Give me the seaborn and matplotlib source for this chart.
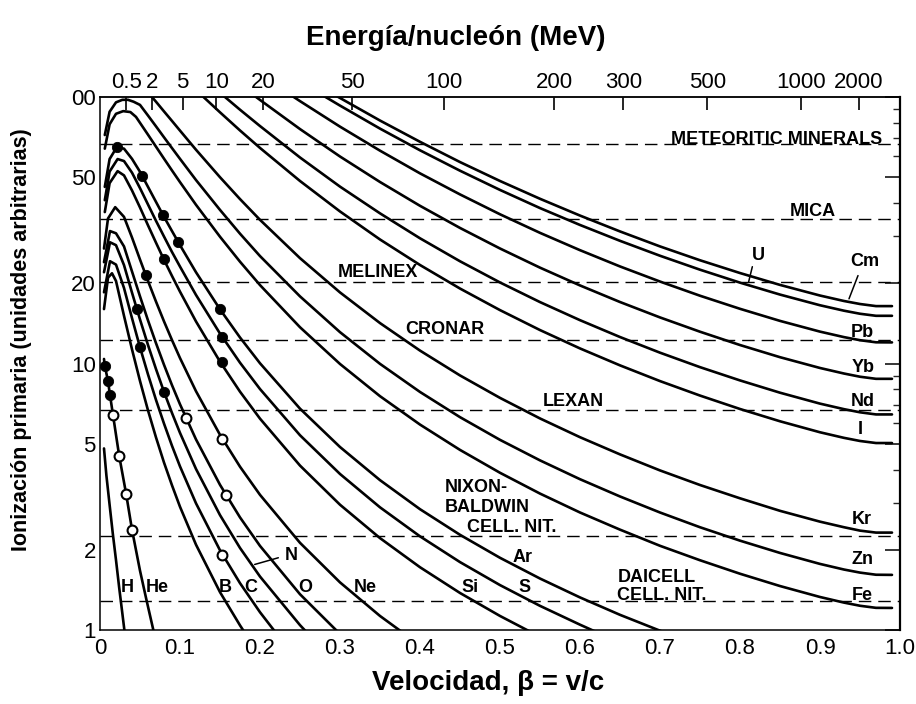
import numpy as np
import pandas as pd
import matplotlib
matplotlib.use("Agg")
import matplotlib.pyplot as plt
import seaborn as sns

sns.set_theme(style="white")
plt.rcParams['font.family'] = ['Liberation Sans', 'DejaVu Sans']

# ---------------- data ----------------
b_H = [0.005, 0.008, 0.012, 0.016, 0.020, 0.024, 0.028, 0.031]
j_H = [4.8, 3.8, 2.95, 2.3, 1.83, 1.44, 1.15, 0.97]

b_He = [0.005, 0.006, 0.010, 0.0125, 0.0163, 0.020, 0.024, 0.0326, 0.040, 0.050, 0.058, 0.067]
j_He = [10.4, 9.8, 8.6, 7.6, 6.4, 5.4, 4.5, 3.25, 2.38, 1.67, 1.3, 0.99]

b_B = [0.005, 0.010, 0.015, 0.02, 0.03, 0.04, 0.05, 0.06, 0.07, 0.08, 0.09, 0.10, 0.12, 0.15, 0.175, 0.18]
j_B = [16.0, 21.0, 21.8, 20.4, 15.1, 11.3, 8.60, 6.67, 5.28, 4.25, 3.49, 2.90, 2.09, 1.387, 1.041, 0.987]

b_C = [0.005, 0.0125, 0.02, 0.03, 0.04, 0.05, 0.06, 0.07, 0.08, 0.09, 0.10, 0.12, 0.15, 0.175, 0.20, 0.22]
j_C = [18.5, 24.2, 23.5, 19.2, 14.8, 11.5, 9.10, 7.30, 5.95, 4.91, 4.11, 2.988, 1.991, 1.499, 1.166, 0.975]

b_N = [0.005, 0.0125, 0.02, 0.03, 0.04, 0.05, 0.06, 0.07, 0.08, 0.09, 0.10, 0.12, 0.15, 0.175, 0.20, 0.25, 0.26]
j_N = [22.0, 28.5, 27.8, 23.4, 18.44, 14.63, 11.73, 9.53, 7.83, 6.52, 5.49, 4.02, 2.699, 2.032, 1.587, 1.043, 0.969]

b_O = [0.005, 0.0125, 0.02, 0.03, 0.04, 0.05, 0.06, 0.07, 0.08, 0.09, 0.10, 0.12, 0.15, 0.175, 0.20, 0.25, 0.30]
j_O = [24.0, 31.4, 30.8, 27.5, 22.15, 17.86, 14.51, 11.92, 9.89, 8.29, 7.03, 5.19, 3.506, 2.646, 2.068, 1.362, 0.966]

b_Ne = [0.005, 0.010, 0.019, 0.03, 0.04, 0.05, 0.06, 0.07, 0.08, 0.09, 0.10, 0.12, 0.15, 0.175, 0.20, 0.25, 0.30, 0.35, 0.40]
j_Ne = [27.0, 35.0, 38.6, 35.5, 29.7, 24.55, 20.4, 17.07, 14.39, 12.24, 10.48, 7.87, 5.40, 4.10, 3.215, 2.124, 1.509, 1.129, 0.877]

b_Si = [0.006, 0.012, 0.022, 0.03, 0.04, 0.05, 0.06, 0.07, 0.08, 0.09, 0.10, 0.12, 0.15, 0.175, 0.20, 0.25, 0.30, 0.35, 0.40, 0.45, 0.50, 0.55]
j_Si = [37.0, 47.5, 52.7, 50.8, 44.6, 38.5, 33.0, 28.4, 24.5, 21.3, 18.6, 14.38, 10.16, 7.84, 6.21, 4.14, 2.952, 2.212, 1.720, 1.377, 1.129, 0.943]

b_S = [0.006, 0.012, 0.022, 0.03, 0.04, 0.05, 0.06, 0.07, 0.08, 0.09, 0.10, 0.12, 0.15, 0.175, 0.20, 0.25, 0.30, 0.35, 0.40, 0.45, 0.50, 0.55, 0.60, 0.62]
j_S = [41.0, 52.5, 58.5, 57.5, 52.0, 45.5, 39.5, 34.3, 29.95, 26.2, 23.1, 18.08, 12.95, 10.07, 8.02, 5.38, 3.85, 2.886, 2.246, 1.798, 1.474, 1.232, 1.047, 0.984]

b_Ar = [0.006, 0.012, 0.021, 0.03, 0.04, 0.05, 0.06, 0.07, 0.08, 0.09, 0.10, 0.12, 0.15, 0.175, 0.20, 0.25, 0.30, 0.35, 0.40, 0.45, 0.50, 0.55, 0.60, 0.65, 0.70, 0.72]
j_Ar = [46.0, 58.5, 64.8, 64.0, 58.6, 52.4, 46.0, 40.4, 35.5, 31.4, 27.8, 22.0, 15.97, 12.52, 10.02, 6.77, 4.86, 3.65, 2.84, 2.276, 1.866, 1.560, 1.325, 1.140, 0.994, 0.944]

b_tail = [0.05, 0.06, 0.07, 0.08, 0.09, 0.10, 0.12, 0.15, 0.175, 0.20, 0.25, 0.30, 0.35, 0.40, 0.45,
          0.50, 0.55, 0.60, 0.65, 0.70, 0.75, 0.80, 0.85, 0.90, 0.93, 0.95, 0.97, 0.99]

b_Fe = [0.006, 0.012, 0.02, 0.029, 0.038, 0.045] + b_tail
j_Fe = [64.0, 79.0, 86.5, 88.5, 87.8, 84.2, 80.0, 72.2, 65.1, 58.7, 53.0, 47.93, 39.4, 29.9, 24.1, 19.69,
        13.68, 9.96, 7.54, 5.90, 4.74, 3.89, 3.25, 2.76, 2.38, 2.07, 1.827, 1.626, 1.462, 1.330, 1.267,
        1.233, 1.211, 1.21]

b_Zn = [0.006, 0.012, 0.02, 0.028, 0.035, 0.042] + b_tail
j_Zn = [72.0, 88.0, 95.5, 97.6, 97.6, 96.0, 93.4, 85.2, 77.6, 70.6, 64.3, 58.6, 48.8, 37.7, 30.7, 25.3,
        17.86, 13.11, 9.97, 7.82, 6.29, 5.17, 4.33, 3.68, 3.17, 2.76, 2.43, 2.164, 1.946, 1.770, 1.686,
        1.642, 1.612, 1.61]

b_Kr = [0.06, 0.07, 0.08, 0.09, 0.10, 0.12, 0.15, 0.175, 0.20, 0.25, 0.30, 0.35, 0.40, 0.45, 0.50, 0.55,
        0.60, 0.65, 0.70, 0.75, 0.80, 0.85, 0.90, 0.93, 0.95, 0.97, 0.99]
j_Kr = [104.0, 96.0, 88.3, 81.3, 74.8, 63.4, 50.0, 41.4, 34.6, 24.85, 18.48, 14.18, 11.18, 9.02, 7.43, 6.22,
        5.29, 4.56, 3.97, 3.50, 3.12, 2.80, 2.55, 2.43, 2.36, 2.32, 2.32]

b_I = [0.12, 0.13, 0.15, 0.175, 0.20, 0.25, 0.30, 0.35, 0.40, 0.45, 0.50, 0.55, 0.60, 0.65, 0.70, 0.75,
       0.80, 0.85, 0.90, 0.93, 0.95, 0.97, 0.99]
j_I = [106.2, 99.6, 87.6, 74.9, 64.4, 48.4, 37.2, 29.2, 23.42, 19.11, 15.86, 13.35, 11.39, 9.84, 8.59, 7.58,
       6.75, 6.07, 5.52, 5.26, 5.12, 5.03, 5.03]

b_Nd = [0.15, 0.16, 0.175, 0.20, 0.25, 0.30, 0.35, 0.40, 0.45, 0.50, 0.55, 0.60, 0.65, 0.70, 0.75, 0.80,
        0.85, 0.90, 0.93, 0.95, 0.97, 0.99]
j_Nd = [103.7, 97.8, 89.6, 77.8, 59.3, 46.1, 36.6, 29.5, 24.19, 20.14, 17.0, 14.54, 12.57, 10.98, 9.69, 8.64,
        7.77, 7.07, 6.74, 6.56, 6.44, 6.44]

b_Yb = [0.19, 0.20, 0.25, 0.30, 0.35, 0.40, 0.45, 0.50, 0.55, 0.60, 0.65, 0.70, 0.75, 0.80, 0.85, 0.90,
        0.93, 0.95, 0.97, 0.99]
j_Yb = [102.7, 97.5, 75.8, 59.8, 47.98, 39.06, 32.26, 27.01, 22.89, 19.63, 17.01, 14.89, 13.16, 11.73, 10.56,
        9.62, 9.17, 8.92, 8.76, 8.76]

b_Pb = [0.24, 0.25, 0.30, 0.35, 0.40, 0.45, 0.50, 0.55, 0.60, 0.65, 0.70, 0.75, 0.80, 0.85, 0.90, 0.93,
        0.95, 0.97, 0.99]
j_Pb = [101.0, 96.5, 77.4, 62.9, 51.7, 43.1, 36.3, 30.92, 26.62, 23.13, 20.30, 17.96, 16.04, 14.45, 13.17,
        12.56, 12.23, 12.01, 12.0]

b_U = [0.27, 0.28, 0.30, 0.35, 0.40, 0.45, 0.50, 0.55, 0.60, 0.65, 0.70, 0.75, 0.80, 0.85, 0.90, 0.93,
       0.95, 0.97, 0.99]
j_U = [105.1, 100.8, 92.85, 76.1, 63.1, 52.9, 44.8, 38.3, 33.1, 28.86, 25.37, 22.49, 20.11, 18.14, 16.54,
       15.78, 15.37, 15.10, 15.1]

b_Cm = [0.29, 0.30, 0.35, 0.40, 0.45, 0.50, 0.55, 0.60, 0.65, 0.70, 0.75, 0.80, 0.85, 0.90, 0.93, 0.95,
        0.97, 0.99]
j_Cm = [103.2, 99.15, 81.6, 67.9, 57.0, 48.4, 41.5, 35.9, 31.3, 27.5, 24.4, 21.85, 19.72, 17.99, 17.16,
        16.72, 16.42, 16.42]

# experimental points
filled_beta = [0.006, 0.010, 0.0125, 0.021, 0.0526, 0.079, 0.098, 0.080, 0.0576, 0.046, 0.050, 0.080,
               0.150, 0.153, 0.152]
filled_J = [9.8, 8.6, 7.6, 64.8, 50.6, 36.2, 28.5, 24.6, 21.4, 16.0, 11.5, 7.83, 15.97, 12.6, 10.1]
open_beta = [0.0163, 0.024, 0.0326, 0.040, 0.108, 0.158, 0.153, 0.153]
open_J = [6.4, 4.5, 3.25, 2.38, 6.25, 3.2, 5.2, 1.92]

# detector thresholds
det_names = ["METEORITIC MINERALS", "MICA", "MELINEX", "CRONAR", "LEXAN", "NIXON-\nBALDWIN\nCELL. NIT.",
             "DAICELL\nCELL. NIT."]
det_J = [66.5, 35.0, 20.2, 12.3, 6.72, 2.26, 1.285]

x_ticks = [0, 0.1, 0.2, 0.3, 0.4, 0.5, 0.6, 0.7, 0.8, 0.9, 1.0]
x_labels = ["0", "0.1", "0.2", "0.3", "0.4", "0.5", "0.6", "0.7", "0.8", "0.9", "1.0"]
y_ticks = [1, 2, 5, 10, 20, 50, 100]
y_labels = ["1", "2", "5", "10", "20", "50", "00"]
E_ticks = [0.5, 2, 5, 10, 20, 50, 100, 200, 300, 500, 1000, 2000]
E_labels = ["0.5", "2", "5", "10", "20", "50", "100", "200", "300", "500", "1000", "2000"]

curves = [("H", b_H, j_H), ("He", b_He, j_He), ("B", b_B, j_B), ("C", b_C, j_C), ("N", b_N, j_N),
          ("O", b_O, j_O), ("Ne", b_Ne, j_Ne), ("Si", b_Si, j_Si), ("S", b_S, j_S), ("Ar", b_Ar, j_Ar),
          ("Fe", b_Fe, j_Fe), ("Zn", b_Zn, j_Zn), ("Kr", b_Kr, j_Kr), ("I", b_I, j_I), ("Nd", b_Nd, j_Nd),
          ("Yb", b_Yb, j_Yb), ("Pb", b_Pb, j_Pb), ("U", b_U, j_U), ("Cm", b_Cm, j_Cm)]
df = pd.concat([pd.DataFrame({"beta": b, "J": j, "ion": n}) for n, b, j in curves], ignore_index=True)

# ---------------- figure ----------------
W, H = 916, 704
fig = plt.figure(figsize=(W / 100, H / 100), dpi=100)
ax = fig.add_axes([100 / W, 1 - 630 / H, 800 / W, 533 / H])
ax.set_yscale("log")

sns.lineplot(data=df, x="beta", y="J", units="ion", estimator=None, color="black", lw=1.9,
             ax=ax, legend=False, sort=False)
for v in det_J:
    ax.axhline(v, color="black", lw=1.0, ls=(0, (9, 5)), zorder=1)

sns.scatterplot(x=filled_beta, y=filled_J, color="black", edgecolor="black", s=55, ax=ax, zorder=5,
                legend=False)
sns.scatterplot(x=open_beta, y=open_J, facecolor="white", edgecolor="black", linewidth=1.5, s=50, ax=ax,
                zorder=5, legend=False)

ax.set_xlim(0, 1.0)
ax.set_ylim(1, 100)
ax.set_xlabel("")
ax.set_ylabel("")
ax.set_xticks(x_ticks)
ax.set_xticklabels(x_labels)
ax.set_xticks(np.arange(0.05, 1.0, 0.1), minor=True)
ax.set_yticks(y_ticks)
ax.set_yticklabels(y_labels)
ax.tick_params(axis="x", which="major", direction="in", length=11, width=1.2, labelsize=16, pad=6,
               top=False, colors="black")
ax.tick_params(axis="x", which="minor", direction="in", length=7, width=1.2, top=False)
ax.tick_params(axis="y", which="major", direction="in", length=11, width=1.1, labelsize=16, pad=3,
               right=True, colors="black")
ax.tick_params(axis="y", which="minor", direction="in", length=5, width=1.0, right=True)
for s in ["top", "bottom", "left"]:
    ax.spines[s].set_linewidth(1.1)
    ax.spines[s].set_color("black")
ax.spines["right"].set_linewidth(1.6)
ax.spines["right"].set_color("black")

def b2e(b):
    b = np.clip(np.asarray(b, dtype=float), 0.0, 0.99999)
    return 931.5 * (1.0 / np.sqrt(1.0 - b ** 2) - 1.0)

def e2b(e):
    e = np.clip(np.asarray(e, dtype=float), 0.0, None)
    g = 1.0 + e / 931.5
    return np.sqrt(1.0 - 1.0 / g ** 2)

sec = ax.secondary_xaxis("top", functions=(b2e, e2b))
sec.set_xticks(E_ticks)
sec.set_xticklabels(E_labels)
sec.xaxis.set_minor_locator(matplotlib.ticker.NullLocator())
sec.tick_params(direction="in", length=9, width=1.2, labelsize=16, pad=3, colors="black")
sec.spines["top"].set_linewidth(1.1)

def fx(x):
    return x / W

def fy(y):
    return 1 - y / H

bold = dict(fontweight="bold", color="black")
fig.text(fx(456), fy(38), "Energía/nucleón (MeV)", ha="center", va="center", fontsize=20, **bold)
fig.text(fx(488), fy(683), "Velocidad, β = v/c", ha="center", va="center", fontsize=20, **bold)
fig.text(fx(22), fy(340), "Ionización primaria (unidades arbitrarias)", ha="center", va="center",
         rotation=90, fontsize=15.5, **bold)

# detector labels
det_pos = [(777, 139, "center"), (813, 211, "center"), (378, 273, "center"), (445, 330, "center"),
           (573, 401, "center")]
for (x, y, ha), name in zip(det_pos, det_names[:5]):
    fig.text(fx(x), fy(y), name, ha=ha, va="center", fontsize=13, **bold)
fig.text(fx(445), fy(487), "NIXON-", ha="left", va="center", fontsize=13, **bold)
fig.text(fx(445), fy(508), "BALDWIN", ha="left", va="center", fontsize=13, **bold)
fig.text(fx(467), fy(528), "CELL. NIT.", ha="left", va="center", fontsize=13, **bold)
fig.text(fx(618), fy(577), "DAICELL", ha="left", va="center", fontsize=13, **bold)
fig.text(fx(617), fy(595), "CELL. NIT.", ha="left", va="center", fontsize=13, **bold)

ion_lab = [("H", 127, 587), ("He", 157, 587), ("B", 225, 587), ("C", 251, 587), ("N", 291, 555),
           ("O", 305, 587), ("Ne", 365, 587), ("Si", 470, 588), ("S", 525, 588), ("Ar", 523, 558),
           ("Fe", 862, 595), ("Zn", 862, 560), ("Kr", 862, 520), ("I", 860, 430), ("Nd", 863, 402),
           ("Yb", 863, 368), ("Pb", 862, 332), ("Cm", 865, 262), ("U", 758, 255)]
for t, x, y in ion_lab:
    fig.text(fx(x), fy(y), t, ha="center", va="center", fontsize=13, **bold)

# leader lines
for xy, pxy in [((0.81, 19.8), (753, 264)), ((0.935, 17.1), (859, 273)), ((0.19, 1.75), (281, 557))]:
    ax.annotate("", xy=xy, xytext=(pxy[0], H - pxy[1]), textcoords="figure pixels",
                arrowprops=dict(arrowstyle="-", lw=1.1, color="black"))

fig.savefig("out.png", dpi=100, facecolor="white")
